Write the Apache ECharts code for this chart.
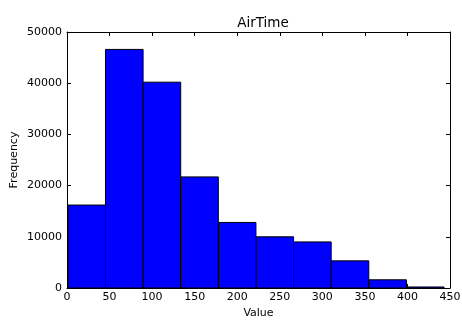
<!DOCTYPE html>
<html><head><meta charset="utf-8">
<script src="https://cdn.jsdelivr.net/npm/echarts@6/dist/echarts.min.js"></script>
<style>html,body{margin:0;padding:0;background:#fff}#c{width:462px;height:321px}</style>
</head><body><div id="c"></div>
<script>
const title = 'AirTime';
const binEdges = [1, 45.2, 89.4, 133.6, 177.8, 222, 266.2, 310.4, 354.6, 398.8, 443];
const counts = [16200, 46600, 40200, 21700, 12800, 10000, 9000, 5300, 1600, 200];
const xTicks = [0, 50, 100, 150, 200, 250, 300, 350, 400, 450];
const yTicks = [0, 10000, 20000, 30000, 40000, 50000];

const data = counts.map((c, i) => [binEdges[i], binEdges[i + 1], c]);
const font = 'DejaVu Sans';
const chart = echarts.init(document.getElementById('c'), null, {renderer: 'canvas'});
function axisCommon() {
  return {
    axisLine: {show: true, onZero: false, lineStyle: {color: '#000', width: 1}},
    axisTick: {show: true, inside: true, length: 4, lineStyle: {color: '#000'}},
    splitLine: {show: false}
  };
}
const fmt = v => String(v);
chart.setOption({
  animation: false,
  title: {text: title, left: 258, top: 11, textAlign: 'center',
    textStyle: {fontFamily: font, fontSize: 13.5, fontWeight: 'normal', color: '#000'}},
  grid: {left: 67, right: 12, top: 32, bottom: 33, containLabel: false, outerBoundsMode: 'none'},
  xAxis: [
    Object.assign({type: 'value', min: xTicks[0], max: xTicks[xTicks.length - 1], interval: 50,
      name: 'Value', nameLocation: 'middle', nameGap: 20,
      nameTextStyle: {fontFamily: font, fontSize: 11, color: '#000'},
      axisLabel: {fontFamily: font, fontSize: 11, color: '#000', margin: 4, formatter: fmt}}, axisCommon()),
    Object.assign({type: 'value', position: 'top', min: 0, max: 450, interval: 50,
      axisLabel: {show: false}}, axisCommon())
  ],
  yAxis: [
    Object.assign({type: 'value', min: yTicks[0], max: yTicks[yTicks.length - 1], interval: 10000,
      name: 'Frequency', nameLocation: 'middle', nameGap: 47, nameMoveOverlap: false,
      nameTextStyle: {fontFamily: font, fontSize: 11, color: '#000'},
      axisLabel: {fontFamily: font, fontSize: 11, color: '#000', margin: 5, formatter: fmt}}, axisCommon()),
    Object.assign({type: 'value', position: 'right', min: 0, max: 50000, interval: 10000,
      axisLabel: {show: false}}, axisCommon())
  ],
  series: [{
    type: 'custom',
    data: data,
    encode: {x: [0, 1], y: 2},
    renderItem: function (params, api) {
      const p0 = api.coord([api.value(0), api.value(2)]);
      const p1 = api.coord([api.value(1), 0]);
      return {
        type: 'rect',
        shape: {x: p0[0], y: p0[1], width: p1[0] - p0[0], height: p1[1] - p0[1]},
        style: {fill: '#0000ff', stroke: '#000', lineWidth: 1}
      };
    }
  }]
});
</script></body></html>
